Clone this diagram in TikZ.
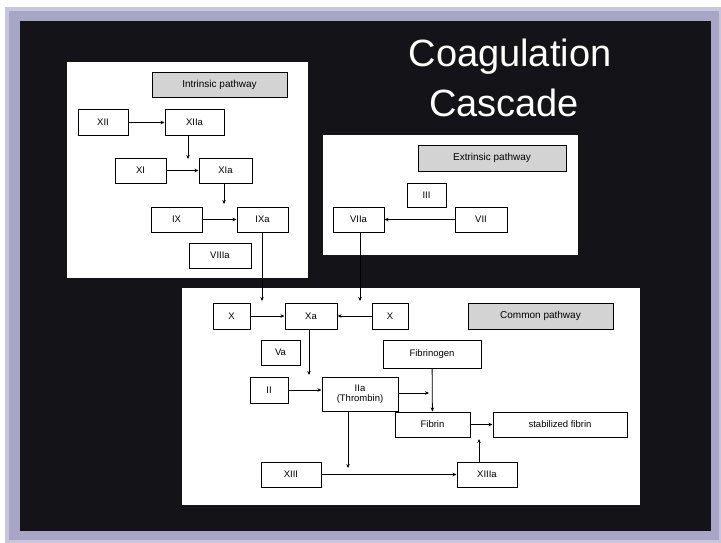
\documentclass[tikz,border=0pt]{standalone}
\usepackage{fontspec}
\setmainfont{Liberation Sans}
\usepackage{xcolor}
\usepackage{tikz}
\usetikzlibrary{arrows.meta, positioning}

\definecolor{frame}{HTML}{A9A5C7}
\definecolor{frameedge}{HTML}{C9C6DC}
\definecolor{slide}{HTML}{141418}
\definecolor{tagfill}{HTML}{D3D3D3}

\begin{document}
\begin{tikzpicture}[
    x=1pt, y=-1pt,
    >={Stealth[length=4pt, width=3.5pt]},
    box/.style={draw, rectangle, line width=1pt, fill=white, minimum width=51pt, minimum height=25pt, inner sep=1pt, align=center, font=\fontsize{9.5}{10}\selectfont},
    tag/.style={box, fill=tagfill, minimum height=25pt, font=\fontsize{10}{11}\selectfont},
    title/.style={text=white, anchor=base, inner sep=0pt, font=\fontsize{38}{46}\selectfont},
    link/.style={->, line width=0.8pt}
]
    \useasboundingbox (0,0) rectangle (721,543);

    % --- SLIDE BACKGROUND ---
    \fill[white] (0,0) rectangle (721,543);
    \fill[frameedge] (5,7) rectangle (721,543);
    \fill[frame] (9,11) rectangle (719,540);
    \fill[slide] (20,21) rectangle (711,531);

    % --- TITLE ---
    \node[title] (title1) at (510, 67) {Coagulation};
    \node[title] (title2) at (504, 117) {Cascade};

    % --- PANELS ---
    \fill[white] (67,62) rectangle (308,278);   % intrinsic
    \fill[white] (323,135) rectangle (578,255); % extrinsic
    \fill[white] (182,288) rectangle (640,505); % common

    % --- INTRINSIC PATHWAY ---
    \node[tag, minimum width=135pt] (itag) at (219.5, 85) {Intrinsic pathway};
    \node[box, minimum width=50pt] (xii) at (103, 122.5) {XII};
    \node[box, minimum width=59pt] (xiia) at (194.5, 122.5) {XIIa};
    \node[box] (xi) at (140.5, 170.5) {XI};
    \node[box, minimum width=53pt] (xia) at (225.5, 170.5) {XIa};
    \node[box] (ix) at (176.5, 219.5) {IX};
    \node[box] (ixa) at (262.5, 219.5) {IXa};
    \node[box, minimum width=62pt] (viiia) at (220, 255.5) {VIIIa};

    % --- EXTRINSIC PATHWAY ---
    \node[tag, minimum width=148pt, minimum height=26pt] (etag) at (492, 158) {Extrinsic pathway};
    \node[box, minimum width=39pt, minimum height=24pt] (iii) at (426.5, 195) {III};
    \node[box] (viia) at (358.5, 219.5) {VIIa};
    \node[box, minimum width=52pt] (vii) at (481, 219.5) {VII};

    % --- COMMON PATHWAY ---
    \node[tag, minimum width=145pt, minimum height=26pt] (ctag) at (540.5, 316) {Common pathway};
    \node[box, minimum width=37pt, minimum height=26pt] (xl) at (231.5, 316) {X};
    \node[box, minimum width=52pt, minimum height=26pt] (xa) at (311, 316) {Xa};
    \node[box, minimum width=36pt, minimum height=26pt] (xr) at (390, 316) {X};
    \node[box, minimum width=39pt] (va) at (280.5, 352.5) {Va};
    \node[box, minimum width=98pt, minimum height=28pt] (fbg) at (432, 354) {Fibrinogen};
    \node[box, minimum width=38pt, minimum height=26pt] (ii) at (269, 390) {II};
    \node[box, minimum width=76pt, minimum height=34pt] (iia) at (360, 394) {IIa\\(Thrombin)};
    \node[box, minimum width=75pt] (fib) at (432.5, 424.5) {Fibrin};
    \node[box, minimum width=134pt] (sfib) at (560, 424.5) {stabilized fibrin};
    \node[box, minimum width=60pt] (xiii) at (291, 474.5) {XIII};
    \node[box, minimum width=60pt] (xiiia) at (487, 474.5) {XIIIa};

    % --- CATALYSIS TARGETS ---
    \coordinate (onxi) at (188, 159);
    \coordinate (onix) at (224, 204);
    \coordinate (onxl) at (262, 301);
    \coordinate (onxr) at (360, 301);
    \coordinate (onii) at (309, 375);
    \coordinate (onfib) at (429, 393);
    \coordinate (onxiii) at (348, 468);
    \coordinate (onsfib) at (479, 439);

    % --- EDGES ---
    \draw[link] (xii) -- (xiia);
    \draw[link] (xiia.south -| onxi) -- (onxi);
    \draw[link] (xi) -- (xia);
    \draw[link] (xia.south -| onix) -- (onix);
    \draw[link] (ix) -- (ixa);
    \draw[link] (ixa.south -| onxl) -- (onxl);

    \draw[link] (vii) -- (viia);
    \draw[link] (viia.south -| onxr) -- (onxr);

    \draw[link] (xl) -- (xa);
    \draw[link] (xr) -- (xa);
    \draw[link] (xa.south -| onii) -- (onii);
    \draw[link] (ii.east) -- (ii.east -| iia.west);
    \draw[link] (iia.east |- onfib) -- (onfib);
    \draw[link] (fbg) -- (fib);
    \draw[link] (fib) -- (sfib);
    \draw[link] (iia.south -| onxiii) -- (onxiii);
    \draw[link] (xiii) -- (xiiia);
    \draw[link] (xiiia.north -| onsfib) -- (onsfib);

\end{tikzpicture}
\end{document}
